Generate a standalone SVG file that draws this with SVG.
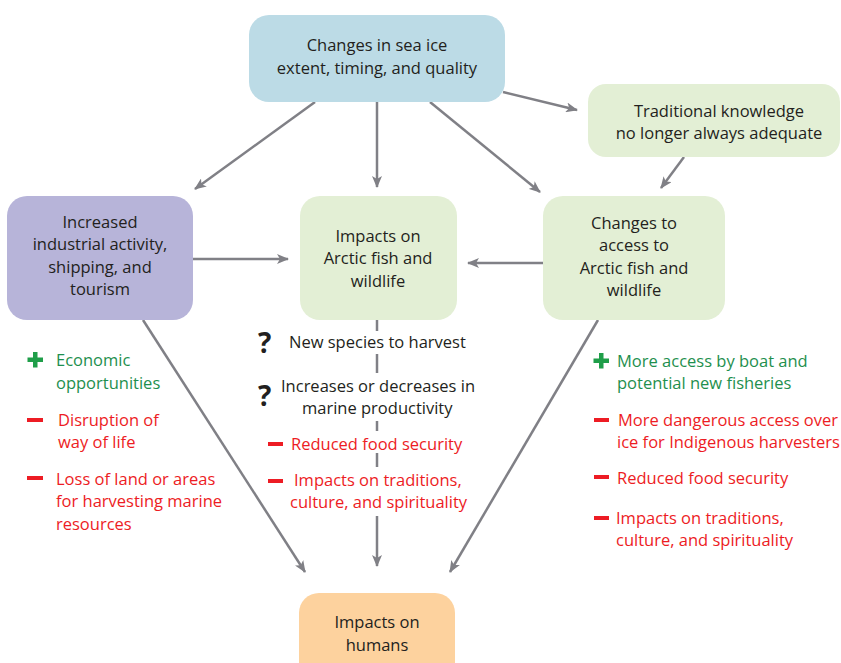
<svg xmlns="http://www.w3.org/2000/svg" width="841" height="663" viewBox="0 0 841 663">
<defs>
<style>
text{font-family:"Open Sans","Liberation Sans",sans-serif;font-size:16.5px;fill:#231f20}
.c{text-anchor:middle}
.r{fill:#ed1c24}
.g{fill:#1e8f4e}
.q{font-weight:bold;font-size:28px;fill:#231f20}
.ln{stroke:#808086;stroke-width:2.5;fill:none}
.mn{fill:#ed1c24}
.pl{fill:#1f9e49}
</style>
<marker id="ah" viewBox="0 0 12 10" refX="11" refY="5" markerWidth="12" markerHeight="10" markerUnits="userSpaceOnUse" orient="auto">
<path d="M0,0 L12,5 L0,10 L3,5 Z" fill="#808086"/>
</marker>
</defs>
<g id="connectors">
<line class="ln" x1="315" y1="102" x2="195" y2="189" marker-end="url(#ah)"/>
<line class="ln" x1="377" y1="102" x2="377" y2="187" marker-end="url(#ah)"/>
<line class="ln" x1="430" y1="102" x2="540" y2="192" marker-end="url(#ah)"/>
<line class="ln" x1="503" y1="92" x2="577" y2="110" marker-end="url(#ah)"/>
<line class="ln" x1="684" y1="157" x2="661" y2="188" marker-end="url(#ah)"/>
<line class="ln" x1="193" y1="259" x2="288" y2="259" marker-end="url(#ah)"/>
<line class="ln" x1="543" y1="263" x2="468" y2="263" marker-end="url(#ah)"/>
<line class="ln" x1="143" y1="320" x2="305" y2="572" marker-end="url(#ah)"/>
<line class="ln" x1="598" y1="320" x2="450" y2="572" marker-end="url(#ah)"/>
<line class="ln" x1="377" y1="320" x2="377" y2="331"/>
<line class="ln" x1="377" y1="354" x2="377" y2="373"/>
<line class="ln" x1="377" y1="421" x2="377" y2="431"/>
<line class="ln" x1="377" y1="453" x2="377" y2="467"/>
<line class="ln" x1="377" y1="516" x2="377" y2="566" marker-end="url(#ah)"/>
</g>
<g id="sea-ice">
<rect x="249" y="15" width="256" height="87" rx="20" fill="#bcdbe6"/>
<text class="c" x="377" y="51">Changes in sea ice</text>
<text class="c" x="377" y="74">extent, timing, and quality</text>
</g>
<g id="traditional">
<rect x="588" y="84" width="252" height="73" rx="18" fill="#e3efd5"/>
<text class="c" x="719" y="117">Traditional knowledge</text>
<text class="c" x="719" y="139">no longer always adequate</text>
</g>
<g id="industrial">
<rect x="7" y="196" width="186" height="124" rx="20" fill="#b7b4d9"/>
<text class="c" x="100" y="228">Increased</text>
<text class="c" x="100" y="250">industrial activity,</text>
<text class="c" x="100" y="273">shipping, and</text>
<text class="c" x="100" y="295">tourism</text>
</g>
<g id="fish">
<rect x="300" y="196" width="157" height="124" rx="20" fill="#e3efd5"/>
<text class="c" x="378" y="242">Impacts on</text>
<text class="c" x="378" y="264">Arctic fish and</text>
<text class="c" x="378" y="287">wildlife</text>
</g>
<g id="access">
<rect x="543" y="196" width="182" height="124" rx="20" fill="#e3efd5"/>
<text class="c" x="634" y="229">Changes to</text>
<text class="c" x="634" y="251">access to</text>
<text class="c" x="634" y="274">Arctic fish and</text>
<text class="c" x="634" y="296">wildlife</text>
</g>
<g id="humans">
<rect x="299" y="593" width="156" height="90" rx="20" fill="#fdd29e"/>
<text class="c" x="377" y="628">Impacts on</text>
<text class="c" x="377" y="651">humans</text>
</g>
<g id="left-list">
<path class="pl" d="M33,352h4.5v5.5h5.5v4.5h-5.5v5.5h-4.5v-5.5h-5.5v-4.5h5.5z"/>
<text class="g" x="56" y="366">Economic</text>
<text class="g" x="56" y="389">opportunities</text>
<rect class="mn" x="27" y="418" width="16" height="4"/>
<text class="r" x="58" y="426">Disruption of</text>
<text class="r" x="58" y="448">way of life</text>
<rect class="mn" x="27" y="476" width="16" height="4"/>
<text class="r" x="56" y="485">Loss of land or areas</text>
<text class="r" x="56" y="507">for harvesting marine</text>
<text class="r" x="56" y="530">resources</text>
</g>
<g id="center-list">
<text class="q" x="258" y="353">?</text>
<text x="289" y="348">New species to harvest</text>
<text class="q" x="258" y="406">?</text>
<text x="281" y="392">Increases or decreases in</text>
<text x="302" y="414">marine productivity</text>
<rect class="mn" x="268" y="442" width="15" height="4"/>
<text class="r" x="291" y="450">Reduced food security</text>
<rect class="mn" x="268" y="479" width="15" height="4"/>
<text class="r" x="294" y="486">Impacts on traditions,</text>
<text class="r" x="290" y="508">culture, and spirituality</text>
</g>
<g id="right-list">
<path class="pl" d="M599,353h4.5v5.5h5.5v4.5h-5.5v5.5h-4.5v-5.5h-5.5v-4.5h5.5z"/>
<text class="g" x="617" y="367">More access by boat and</text>
<text class="g" x="617" y="389">potential new fisheries</text>
<rect class="mn" x="594" y="418" width="15" height="4"/>
<text class="r" x="618" y="426">More dangerous access over</text>
<text class="r" x="617" y="448">ice for Indigenous harvesters</text>
<rect class="mn" x="594" y="475" width="15" height="4"/>
<text class="r" x="617" y="484">Reduced food security</text>
<rect class="mn" x="594" y="516" width="15" height="4"/>
<text class="r" x="616" y="524">Impacts on traditions,</text>
<text class="r" x="616" y="546">culture, and spirituality</text>
</g>
</svg>
